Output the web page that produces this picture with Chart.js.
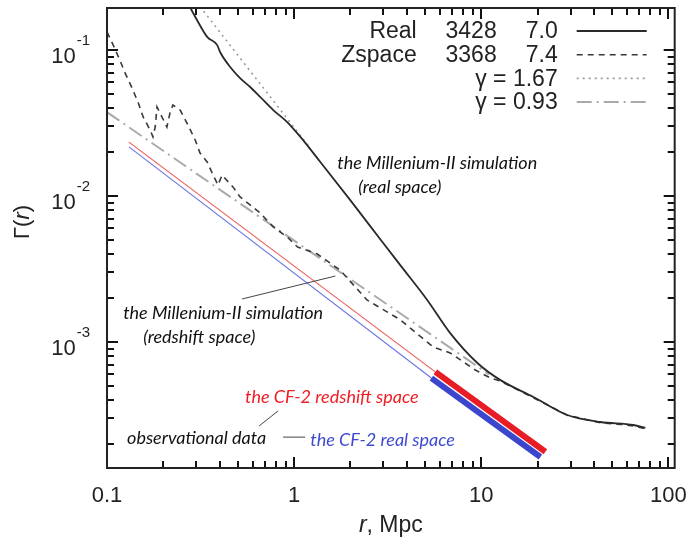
<!DOCTYPE html>
<html>
<head>
<meta charset="utf-8">
<script src="https://cdn.jsdelivr.net/npm/chart.js@4.4.1/dist/chart.umd.min.js"></script>
<style>
  body { margin: 0; background: #fff; }
  #wrap { width: 694px; height: 542px; }
</style>
</head>
<body>
<div id="wrap"><canvas id="gammaChart" width="694" height="542"></canvas></div>
<script>
// values: r in Mpc, Gamma(r)
const realR = [0.27, 0.303, 0.343, 0.388, 0.402, 0.455, 0.514, 0.582, 0.658, 0.773, 0.918, 1.08, 1.38, 1.99, 2.99, 3.69, 5.14, 6.82, 9.53, 12.6, 19, 28.8, 43.3, 65, 75.3];
const realG = [0.21, 0.160, 0.123, 0.108, 0.0969, 0.0765, 0.0643, 0.0558, 0.0477, 0.0388, 0.0321, 0.0254, 0.0171, 0.0094, 0.00476, 0.00336, 0.00194, 0.00115, 7.18e-4, 5.5e-4, 4.2e-4, 3.16e-4, 2.83e-4, 2.7e-4, 2.58e-4];

const zspaceR = [0.100, 0.108, 0.117, 0.125, 0.136, 0.147, 0.156, 0.170, 0.176, 0.181, 0.185, 0.192, 0.209, 0.217, 0.225, 0.246, 0.271, 0.296, 0.314, 0.343, 0.369, 0.392, 0.412, 0.472, 0.514, 0.582, 0.658, 0.773, 0.918, 1.04, 1.33, 1.76, 2.45, 3.69, 5.53, 6.82, 9.29, 11.2, 12.6, 19, 28.8, 43.3, 56, 65, 75];
const zspaceG = [0.133, 0.108, 0.0855, 0.0695, 0.055, 0.0434, 0.0348, 0.0283, 0.0254, 0.0297, 0.0407, 0.037, 0.0297, 0.037, 0.042, 0.0388, 0.0306, 0.0242, 0.0197, 0.0171, 0.0139, 0.0119, 0.0139, 0.0115, 0.00985, 0.00868, 0.00765, 0.00614, 0.00524, 0.00448, 0.0040, 0.00311, 0.00194, 0.00142, 9.25e-4, 8.41e-4, 6.43e-4, 5.66e-4, 5.4e-4, 4.15e-4, 3.15e-4, 2.8e-4, 2.72e-4, 2.66e-4, 2.55e-4];

// power law fits (end points)
const fit167R = [0.30, 1.2];
const fit167G = [0.214, 0.0218];
const fit093R = [0.1, 11];
const fit093G = [0.0375, 6.0e-4];

// CF-2 observational data
const cfRedThinR = [0.131, 5.68];
const cfRedThinG = [0.0234, 6.24e-4];
const cfRedR = [5.68, 22.0];
const cfRedG = [6.24e-4, 1.77e-4];
const cfBlueThinR = [0.131, 5.41];
const cfBlueThinG = [0.0217, 5.66e-4];
const cfBlueR = [5.41, 20.7];
const cfBlueG = [5.66e-4, 1.63e-4];

// legend table
const legendNames = ['Real', 'Zspace', '', ''];
const legendCounts = ['3428', '3368', '', ''];
const legendValues = ['7.0', '7.4', 'γ = 1.67', 'γ = 0.93'];

// axes
const xMin = 0.1, xMax = 108;
const yMin = 1.37e-4, yMax = 0.194;
const xMajor = [0.1, 1, 10, 100];
const xMajorLabels = ['0.1', '1', '10', '100'];
const yExponents = [-1, -2, -3];

// annotations (anchored in data units: left edge, middle of text)
const annoTexts = ['the Millenium-II simulation', '(real space)', 'the Millenium-II simulation', '(redshift space)', 'the CF-2 redshift space', 'observational data', 'the CF-2 real space'];
const annoR = [1.70, 2.20, 0.122, 0.156, 0.547, 0.128, 1.22];
const annoG = [0.0168, 0.01153, 0.00158, 0.00108, 4.2e-4, 2.2e-4, 2.13e-4];
const annoColors = ['#111', '#111', '#111', '#111', '#f01c24', '#111', '#3e4ad0'];

// pointer lines [r1, g1, r2, g2]
const pointers = [
  [0.527, 0.00197, 1.66, 0.00283],
  [0.873, 2.23e-4, 1.145, 2.23e-4],
  [0.650, 2.66e-4, 0.821, 3.37e-4]
];

const pts = (xs, ys) => xs.map((v, i) => ({ x: v, y: ys[i] }));
const labelFont = "'Liberation Sans', Arial, sans-serif";

// 1..9 x 10^n positions inside [min, max]
function logTicks(min, max) {
  const out = [];
  const e0 = Math.floor(Math.log10(min) + 1e-9);
  const e1 = Math.ceil(Math.log10(max));
  for (let e = e0; e <= e1; e++) {
    for (let k = 1; k <= 9; k++) {
      const v = k * Math.pow(10, e);
      if (v >= min * 0.999 && v <= max * 1.001) out.push([v, k === 1]);
    }
  }
  return out;
}
const xTicks = logTicks(xMin, xMax);
const yTicks = logTicks(yMin, yMax);

const framePlugin = {
  id: 'frame',
  afterDraw(chart) {
    const { ctx, chartArea: a, scales: { x, y } } = chart;
    ctx.save();
    ctx.setLineDash([]);
    ctx.fillStyle = '#111';
    // inward ticks on all four sides
    for (const [v, major] of xTicks) {
      const px = Math.round(x.getPixelForValue(v));
      const len = major ? 11 : 7;
      ctx.fillRect(px - 1, a.bottom - len, 2, len);
      ctx.fillRect(px - 1, a.top, 2, len);
    }
    for (const [v, major] of yTicks) {
      const py = Math.round(y.getPixelForValue(v));
      const len = major ? 11 : 7;
      ctx.fillRect(a.left, py - 1, len, 2);
      ctx.fillRect(a.right - len, py - 1, len, 2);
    }
    ctx.strokeStyle = '#222';
    ctx.lineWidth = 2;
    ctx.strokeRect(a.left, a.top, a.right - a.left, a.bottom - a.top);

    // y decade labels with superscript
    ctx.fillStyle = '#222';
    ctx.textBaseline = 'alphabetic';
    ctx.textAlign = 'right';
    yExponents.forEach(ex => {
      const py = y.getPixelForValue(Math.pow(10, ex));
      ctx.font = '15px ' + labelFont;
      const sup = String(ex);
      const supW = ctx.measureText(sup).width;
      ctx.fillText(sup, a.left - 17, py - 5);
      ctx.font = '22px ' + labelFont;
      ctx.fillText('10', a.left - 18 - supW, py + 13);
    });

    // axis titles
    ctx.font = 'italic 23px ' + labelFont;
    const rW = ctx.measureText('r').width;
    ctx.font = '23px ' + labelFont;
    const restW = ctx.measureText(', Mpc').width;
    const cx = (a.left + a.right) / 2;
    const ty = 532;
    ctx.textAlign = 'left';
    ctx.font = 'italic 23px ' + labelFont;
    ctx.fillText('r', cx - (rW + restW) / 2, ty);
    ctx.font = '23px ' + labelFont;
    ctx.fillText(', Mpc', cx - (rW + restW) / 2 + rW, ty);

    ctx.save();
    ctx.translate(29, 222);
    ctx.rotate(-Math.PI / 2);
    ctx.font = '22px ' + labelFont;
    const gW = ctx.measureText('Γ(').width;
    const cW = ctx.measureText(')').width;
    ctx.font = 'italic 22px ' + labelFont;
    const r2W = ctx.measureText('r').width;
    const sx = -(gW + r2W + cW) / 2;
    ctx.font = '22px ' + labelFont;
    ctx.fillText('Γ(', sx, 0);
    ctx.font = 'italic 22px ' + labelFont;
    ctx.fillText('r', sx + gW, 0);
    ctx.font = '22px ' + labelFont;
    ctx.fillText(')', sx + gW + r2W, 0);
    ctx.restore();

    // legend table, gnuplot style
    const rowY = i => a.top + 24 + i * 23.7;
    ctx.font = '23px ' + labelFont;
    ctx.textAlign = 'right';
    ctx.textBaseline = 'middle';
    [0, 1, 2, 3].forEach(i => {
      const ds = chart.data.datasets[i];
      const yy = rowY(i);
      ctx.fillStyle = '#222';
      ctx.fillText(legendNames[i], a.right - 258, yy);
      ctx.fillText(legendCounts[i], a.right - 178, yy);
      ctx.fillText(legendValues[i], a.right - 117, yy);
      ctx.save();
      ctx.strokeStyle = ds.borderColor;
      ctx.lineWidth = ds.borderWidth;
      ctx.setLineDash(ds.borderDash || []);
      ctx.beginPath();
      ctx.moveTo(a.right - 98, yy - 1);
      ctx.lineTo(a.right - 28, yy - 1);
      ctx.stroke();
      ctx.restore();
    });

    // pointer lines
    ctx.strokeStyle = '#444';
    ctx.lineWidth = 1;
    pointers.forEach(p => {
      ctx.beginPath();
      ctx.moveTo(x.getPixelForValue(p[0]), y.getPixelForValue(p[1]));
      ctx.lineTo(x.getPixelForValue(p[2]), y.getPixelForValue(p[3]));
      ctx.stroke();
    });

    // text annotations
    ctx.font = "italic 18px Lato, 'Open Sans', sans-serif";
    ctx.textAlign = 'left';
    ctx.textBaseline = 'middle';
    annoTexts.forEach((t, i) => {
      ctx.fillStyle = annoColors[i];
      ctx.fillText(t, x.getPixelForValue(annoR[i]), y.getPixelForValue(annoG[i]));
    });
    ctx.restore();
  }
};

const ctx = document.getElementById('gammaChart');

new Chart(ctx, {
  type: 'line',
  data: {
    datasets: [
      { label: 'Real', data: pts(realR, realG), borderColor: '#2a2a2a', borderWidth: 1.8, cubicInterpolationMode: 'monotone' },
      { label: 'Zspace', data: pts(zspaceR, zspaceG), borderColor: '#3a3a3a', borderWidth: 1.6, borderDash: [6, 5] },
      { label: 'γ = 1.67', data: pts(fit167R, fit167G), borderColor: '#9a9a9a', borderWidth: 1.6, borderDash: [2, 4] },
      { label: 'γ = 0.93', data: pts(fit093R, fit093G), borderColor: '#aaaaaa', borderWidth: 2, borderDash: [15, 5, 2, 5] },
      { label: 'CF-2 redshift', data: pts(cfRedThinR, cfRedThinG), borderColor: '#f25656', borderWidth: 1.1 },
      { label: 'CF-2 real', data: pts(cfBlueThinR, cfBlueThinG), borderColor: '#6a74e0', borderWidth: 1.1 },
      { label: 'CF-2 redshift data', data: pts(cfRedR, cfRedG), borderColor: '#e81c24', borderWidth: 6 },
      { label: 'CF-2 real data', data: pts(cfBlueR, cfBlueG), borderColor: '#3c46cc', borderWidth: 6 }
    ]
  },
  options: {
    responsive: false,
    animation: false,
    events: [],
    elements: { point: { radius: 0 }, line: { tension: 0 } },
    layout: { padding: { top: 8, right: 19, left: 0, bottom: 0 } },
    plugins: { legend: { display: false }, tooltip: { enabled: false } },
    scales: {
      x: {
        type: 'logarithmic',
        min: xMin,
        max: xMax,
        grid: { display: false },
        border: { display: false },
        afterBuildTicks: s => { s.ticks = xMajor.map(v => ({ value: v })); },
        afterFit: s => { s.height = 74; },
        ticks: {
          autoSkip: false,
          maxRotation: 0,
          padding: 7,
          color: '#222',
          font: { family: labelFont, size: 22 },
          callback: v => {
            const i = xMajor.findIndex(m => Math.abs(Math.log10(m) - Math.log10(v)) < 1e-6);
            return i >= 0 ? xMajorLabels[i] : '';
          }
        }
      },
      y: {
        type: 'logarithmic',
        min: yMin,
        max: yMax,
        grid: { display: false },
        border: { display: false },
        afterFit: s => { s.width = 107; },
        ticks: { display: false }
      }
    }
  },
  plugins: [framePlugin]
});
</script>
</body>
</html>
